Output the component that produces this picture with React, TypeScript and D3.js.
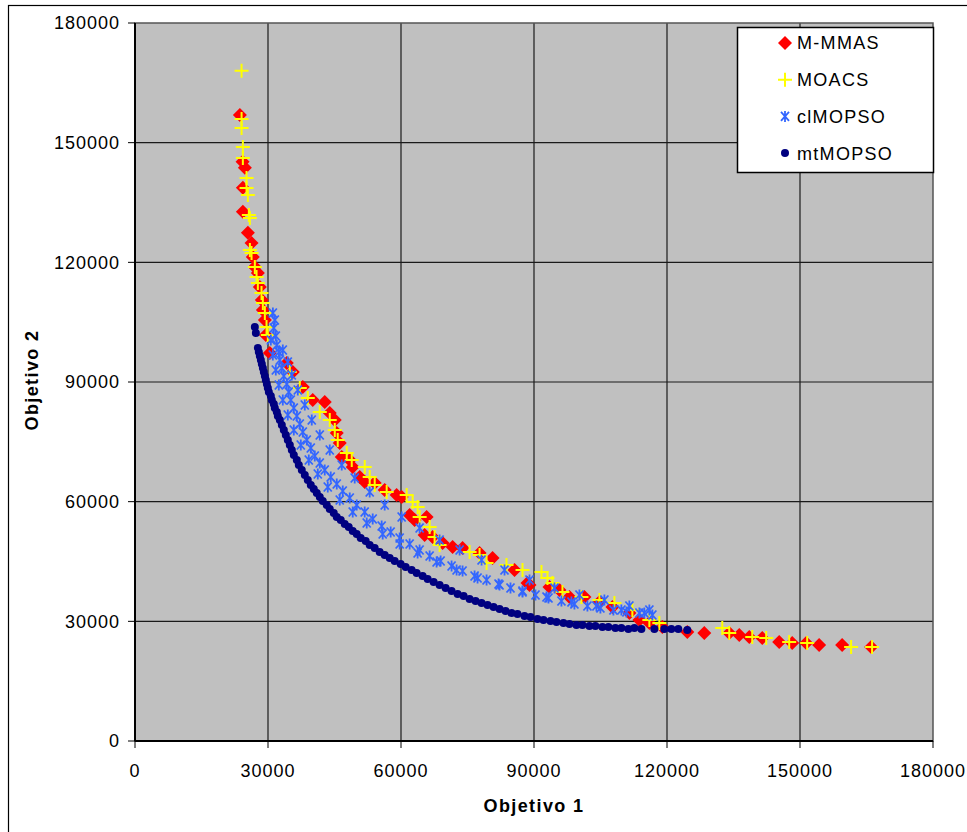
import React from "react";
import * as d3 from "d3";

const xTicks = [0, 30000, 60000, 90000, 120000, 150000, 180000];
const yTicks = [0, 30000, 60000, 90000, 120000, 150000, 180000];
const seriesNames = ["M-MMAS", "MOACS", "clMOPSO", "mtMOPSO"];

const mmas: [number, number][] = [
  [23650, 156940], [24260, 145230], [24780, 143700], [24330, 138710], [24330, 132690],
  [25460, 127430], [26290, 124850], [26580, 121340], [27030, 118830], [27710, 117330],
  [28160, 113820], [28610, 110560], [28840, 108050], [29290, 105550], [29510, 101780],
  [30410, 97270], [34240, 94760], [35600, 92510], [37850, 88750], [40100, 85490],
  [42800, 84990], [43930, 82230], [45060, 80470], [45510, 77220], [46190, 74710],
  [46640, 71200], [48440, 70450], [49110, 68690], [50690, 66180], [51820, 64930],
  [54070, 64680], [56320, 62930], [59020, 61670], [60150, 61170], [61950, 56660],
  [63080, 55400], [65780, 56160], [65330, 51640], [67130, 51140], [69390, 49640],
  [71640, 48640], [73890, 48390], [77720, 47130], [80650, 45880], [85610, 42870],
  [88540, 39610], [88990, 39110], [93490, 38610], [95740, 37860], [98000, 36100],
  [101380, 36100], [104760, 34850], [107690, 33590], [111520, 32090], [113770, 30330],
  [116020, 29580], [118950, 28580], [124580, 27330], [128410, 27080], [134040, 27080],
  [136300, 26570], [138550, 26070], [141480, 25820], [145310, 24820], [148240, 24570],
  [151390, 24570], [154320, 24070], [159500, 24070], [166040, 23570],
];

const moacs: [number, number][] = [
  [24040, 168040], [24040, 155940], [24040, 153690], [24330, 148920], [24330, 146160],
  [25160, 141140], [25160, 138630], [25460, 136880], [25680, 131870], [25910, 131110],
  [25910, 123090], [26290, 122340], [27030, 118830], [27420, 116320], [27710, 114820],
  [28540, 112310], [28840, 109810], [29290, 107300], [29670, 103790], [29960, 101780],
  [34920, 92510], [37170, 88500], [38970, 85990], [41680, 82480], [43930, 80470],
  [45060, 77970], [45730, 75460], [47760, 72200], [48890, 70450], [51820, 68690],
  [52940, 66180], [54070, 64180], [56770, 62420], [61280, 61670], [62630, 59920],
  [63760, 58660], [64210, 56160], [66460, 53650], [67580, 51140], [68710, 49140],
  [75470, 47380], [77720, 46630], [79300, 44620], [83800, 44120], [87410, 42870],
  [91690, 42370], [93040, 40860], [94170, 39610], [96420, 37350], [100700, 36100],
  [104760, 35350], [108140, 34600], [112190, 32840], [116020, 30330], [118270, 29580],
  [132470, 28330], [134040, 27080], [139230, 26070], [142380, 25820], [147560, 24820],
  [151620, 24570], [161530, 23570], [166260, 23570],
];

const clmopso: [number, number][] = [
  [31100, 107300], [31540, 105540], [31310, 103540], [31760, 101530], [31990, 99280],
  [32440, 97520], [32670, 95520], [33120, 93510], [33570, 91510], [34240, 89500],
  [34690, 87490], [35140, 85490], [35820, 83480], [36500, 81480], [37170, 79470],
  [37850, 77470], [38750, 75460], [39650, 73450], [40550, 71450], [41680, 69690],
  [42800, 67940], [44150, 66180], [45510, 64430], [46860, 62680], [48440, 60920],
  [50010, 59170], [51810, 57410], [53620, 55660], [55640, 53900], [57670, 52400],
  [59700, 50890], [61950, 49390], [64200, 47880], [66460, 46380], [68940, 45130],
  [71410, 43870], [73890, 42620], [76600, 41370], [79300, 40360], [82000, 39360],
  [84700, 38360], [87410, 37350], [90340, 36600], [93270, 35850], [96190, 35100],
  [99120, 34350], [102050, 33840], [104980, 33340], [107910, 32840], [110840, 32340],
  [113770, 32090], [116700, 31590],
  [33340, 98020], [34470, 95020], [35370, 91760], [36720, 88000], [38300, 84240],
  [39870, 80470], [41680, 76710], [43930, 72950], [46630, 69190], [49560, 65930],
  [52940, 62420], [56320, 59170], [60150, 56160], [64200, 53400], [68710, 50390],
  [73220, 47880], [78170, 45380], [83350, 42870], [88990, 40360], [94620, 38360],
  [100250, 36600], [105880, 35350], [111510, 33840], [116020, 32840],
  [30640, 100530], [31090, 96770], [31760, 93010], [32440, 89250], [33340, 85490],
  [34470, 81730], [35820, 77970], [37400, 74210], [39200, 70450], [41230, 66940],
  [43480, 63680], [46180, 60420], [49110, 57410], [52270, 54650], [55870, 51890],
  [59700, 49390], [63750, 47130], [68030, 44880], [72540, 42870], [77270, 40860],
  [82230, 39110], [87410, 37610], [92820, 36100], [98450, 34850], [104080, 33840],
  [109710, 32840], [114890, 32090],
];

const mtmopso: [number, number][] = [
  [27030, 103790], [27260, 102290], [27710, 98530], [28160, 96520], [28610, 94510],
  [29060, 92510], [29510, 90500], [29960, 88500], [30640, 86490], [31310, 84490],
  [31990, 82480], [32670, 80470], [33570, 77970], [34470, 75460], [35370, 72950],
  [36500, 70450], [37620, 67940], [38970, 65430], [40330, 63180], [41680, 61170],
  [43250, 59170], [44830, 57160], [46410, 55400], [48210, 53650], [50010, 51890],
  [52040, 50140], [54070, 48390], [56320, 46630], [58570, 45130], [61050, 43620],
  [63530, 42120], [66010, 40610], [68710, 39110], [71410, 37610], [74120, 36350],
  [76820, 35100], [79520, 34100], [82230, 33090], [84930, 32090], [87860, 31340],
  [90790, 30590], [93720, 30080], [96640, 29580], [99570, 29080], [102500, 28830],
  [105430, 28580], [108360, 28330], [111290, 28080], [114220, 28080], [117150, 28080],
  [119400, 28080], [120980, 28080], [122550, 28080], [124580, 27830],
  [27930, 97520], [28390, 95520], [28840, 93510], [29290, 91510], [29740, 89500],
  [30190, 87490], [30860, 85490], [31540, 83480], [32220, 81480], [33120, 79220],
  [34020, 76710], [34920, 74210], [35820, 71700], [36950, 69190], [38300, 66690],
  [39650, 64180], [41000, 62170], [42350, 60170], [43930, 58160], [45510, 56160],
  [47310, 54400], [49110, 52650], [50910, 50890], [52940, 49140], [55190, 47380],
  [57450, 45880], [59920, 44370], [62400, 42870], [64880, 41370], [67360, 39860],
  [70060, 38360], [72770, 36850], [75470, 35600], [78170, 34600], [80880, 33590],
  [83580, 32590], [86280, 31840], [89210, 31090], [92140, 30330], [95070, 29830],
  [98000, 29330], [100930, 29080], [103850, 28830], [106780, 28580], [109710, 28330],
  [112640, 28330],
];

const W = 967;
const H = 832;
const plot = { left: 135, right: 933, top: 23, bottom: 741 };
const FONT = "'Liberation Sans', Arial, sans-serif";

const diamondPath = "M0,-7L7,0L0,7L-7,0Z";
const crossPath = "M-7,0H7M0,-7V7";
const starPath = "M-4,-4.5L4,4.5M-4,4.5L4,-4.5M0,-5.5V5.5";

function Marker({ kind }: { kind: number }) {
  if (kind === 0) return <path d={diamondPath} fill="#FF0000" />;
  if (kind === 1) return <path d={crossPath} stroke="#FFFF00" strokeWidth={2} fill="none" />;
  if (kind === 2) return <path d={starPath} stroke="#3366FF" strokeWidth={1.8} fill="none" />;
  return <circle r={4} fill="#000080" />;
}

export default function App() {
  const x = d3.scaleLinear().domain([0, 180000]).range([plot.left, plot.right]);
  const y = d3.scaleLinear().domain([0, 180000]).range([plot.bottom, plot.top]);
  const all = [mmas, moacs, clmopso, mtmopso];

  return (
    <svg
      width={W}
      height={H}
      style={{ position: "absolute", left: 0, top: 0, background: "#fff" }}
      fontFamily={FONT}
    >
      <rect x={8.5} y={5.5} width={W + 10} height={H + 10} fill="#fff" stroke="#000" strokeWidth={1.2} />
      <rect
        x={plot.left}
        y={plot.top}
        width={plot.right - plot.left}
        height={plot.bottom - plot.top}
        fill="#C0C0C0"
      />
      {xTicks.slice(1, -1).map((t) => (
        <line key={"gx" + t} x1={x(t)} x2={x(t)} y1={plot.top} y2={plot.bottom} stroke="#1a1a1a" strokeWidth={1.2} />
      ))}
      {yTicks.slice(1, -1).map((t) => (
        <line key={"gy" + t} x1={plot.left} x2={plot.right} y1={y(t)} y2={y(t)} stroke="#1a1a1a" strokeWidth={1.2} />
      ))}
      <rect
        x={plot.left}
        y={plot.top}
        width={plot.right - plot.left}
        height={plot.bottom - plot.top}
        fill="none"
        stroke="#555"
        strokeWidth={1.5}
      />
      <line x1={plot.left} x2={plot.left} y1={plot.top} y2={plot.bottom} stroke="#000" strokeWidth={2} />
      <line x1={plot.left} x2={plot.right} y1={plot.bottom} y2={plot.bottom} stroke="#000" strokeWidth={2} />
      {yTicks.map((t) => (
        <g key={"ty" + t}>
          <line x1={plot.left - 7} x2={plot.left} y1={y(t)} y2={y(t)} stroke="#000" strokeWidth={1} />
          <text x={120} y={y(t)} dy="0.35em" textAnchor="end" fontSize={18} letterSpacing={1}>
            {t}
          </text>
        </g>
      ))}
      {xTicks.map((t) => (
        <g key={"tx" + t}>
          <line x1={x(t)} x2={x(t)} y1={plot.bottom} y2={plot.bottom + 7} stroke="#000" strokeWidth={1} />
          <text x={x(t)} y={777} textAnchor="middle" fontSize={18} letterSpacing={1}>
            {t}
          </text>
        </g>
      ))}
      <text x={534} y={812} textAnchor="middle" fontSize={18} fontWeight="bold" letterSpacing={1.4}>
        Objetivo 1
      </text>
      <text
        transform="translate(38,380) rotate(-90)"
        textAnchor="middle"
        fontSize={18}
        fontWeight="bold"
        letterSpacing={1.4}
      >
        Objetivo 2
      </text>

      {all.map((data, si) => (
        <g key={"s" + si}>
          {data.map((d, i) => (
            <g key={i} transform={`translate(${x(d[0])},${y(d[1])})`}>
              <Marker kind={si} />
            </g>
          ))}
        </g>
      ))}

      <rect x={737.5} y={27.5} width={196} height={145} fill="#fff" stroke="#000" strokeWidth={1.5} />
      {seriesNames.map((name, i) => (
        <g key={name} transform={`translate(785,${43 + i * 36.7})`}>
          <Marker kind={i} />
          <text x={12} y={0} dy="0.36em" fontSize={18} letterSpacing={1.3}>
            {name}
          </text>
        </g>
      ))}
    </svg>
  );
}
